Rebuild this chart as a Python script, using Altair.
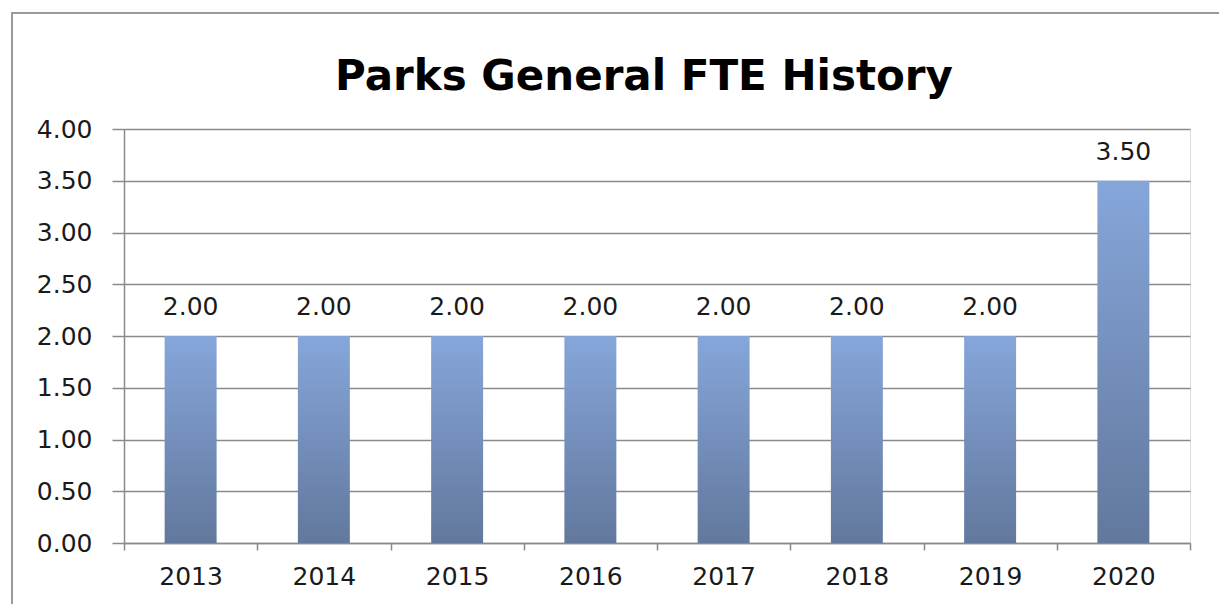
import altair as alt
import pandas as pd

title_text = "Parks General FTE History"
years = ["2013", "2014", "2015", "2016", "2017", "2018", "2019", "2020"]
fte = [2.00, 2.00, 2.00, 2.00, 2.00, 2.00, 2.00, 3.50]
y_ticks = [0, 0.5, 1.0, 1.5, 2.0, 2.5, 3.0, 3.5, 4.0]

df = pd.DataFrame({"year": years, "fte": fte})

W, H = 1066, 414
grid_col = "#8a8a8a"
font = "DejaVu Sans"
fs = 25

x_enc = alt.X("year:N", sort=years, title=None,
              scale=alt.Scale(paddingInner=0, paddingOuter=0),
              axis=alt.Axis(labelAngle=0, labelFont=font, labelFontSize=fs,
                            labelColor="#1a1a1a", labelPadding=14,
                            tickBand="extent", tickSize=7, tickColor=grid_col,
                            tickWidth=1.5, domainColor=grid_col, domainWidth=1.5,
                            grid=False))
y_enc = alt.Y("fte:Q", title=None,
              scale=alt.Scale(domain=[0, 4], nice=False),
              axis=alt.Axis(values=y_ticks, format=".2f", labelFont=font,
                            labelFontSize=fs, labelColor="#1a1a1a",
                            labelPadding=20, tickSize=12, tickColor=grid_col,
                            tickWidth=1.5, domainColor=grid_col, domainWidth=1.5,
                            grid=True, gridColor=grid_col, gridWidth=1.5))

grad = alt.Gradient(gradient="linear",
                    stops=[alt.GradientStop(color="#86A6DA", offset=0),
                           alt.GradientStop(color="#62789D", offset=1)],
                    x1=0, x2=0, y1=0, y2=1)

bars = alt.Chart(df).mark_bar(color=grad, width=alt.RelativeBandSize(0.39)).encode(
    x=x_enc, y=y_enc)

labels = alt.Chart(df).mark_text(font=font, fontSize=fs, color="#1a1a1a",
                                 baseline="middle", dy=-29).encode(
    x=alt.X("year:N", sort=years),
    y=alt.Y("fte:Q"),
    text=alt.Text("fte:Q", format=".2f"))

title = alt.Chart(pd.DataFrame({"t": [title_text]})).mark_text(
    font="DejaVu Sans", fontWeight="bold", fontSize=42, color="#000000",
    baseline="alphabetic", align="center").encode(
    x=alt.value(520), y=alt.value(-39), text="t:N")

border = alt.Chart(pd.DataFrame({"a": [0]})).mark_rect(
    fill=None, stroke="#9a9a9a", strokeWidth=2).encode(
    x=alt.value(-112), x2=alt.value(1101), y=alt.value(-116), y2=alt.value(480))

chart = alt.layer(border, bars, labels, title).properties(
    width=W, height=H,
    padding={"left": 116, "top": 121, "right": 29, "bottom": 61},
    autosize=alt.AutoSizeParams(type="none"),
).configure_view(stroke=None).configure(background="white")

chart.save("out.html", embed_options={"renderer": "svg", "actions": False})
